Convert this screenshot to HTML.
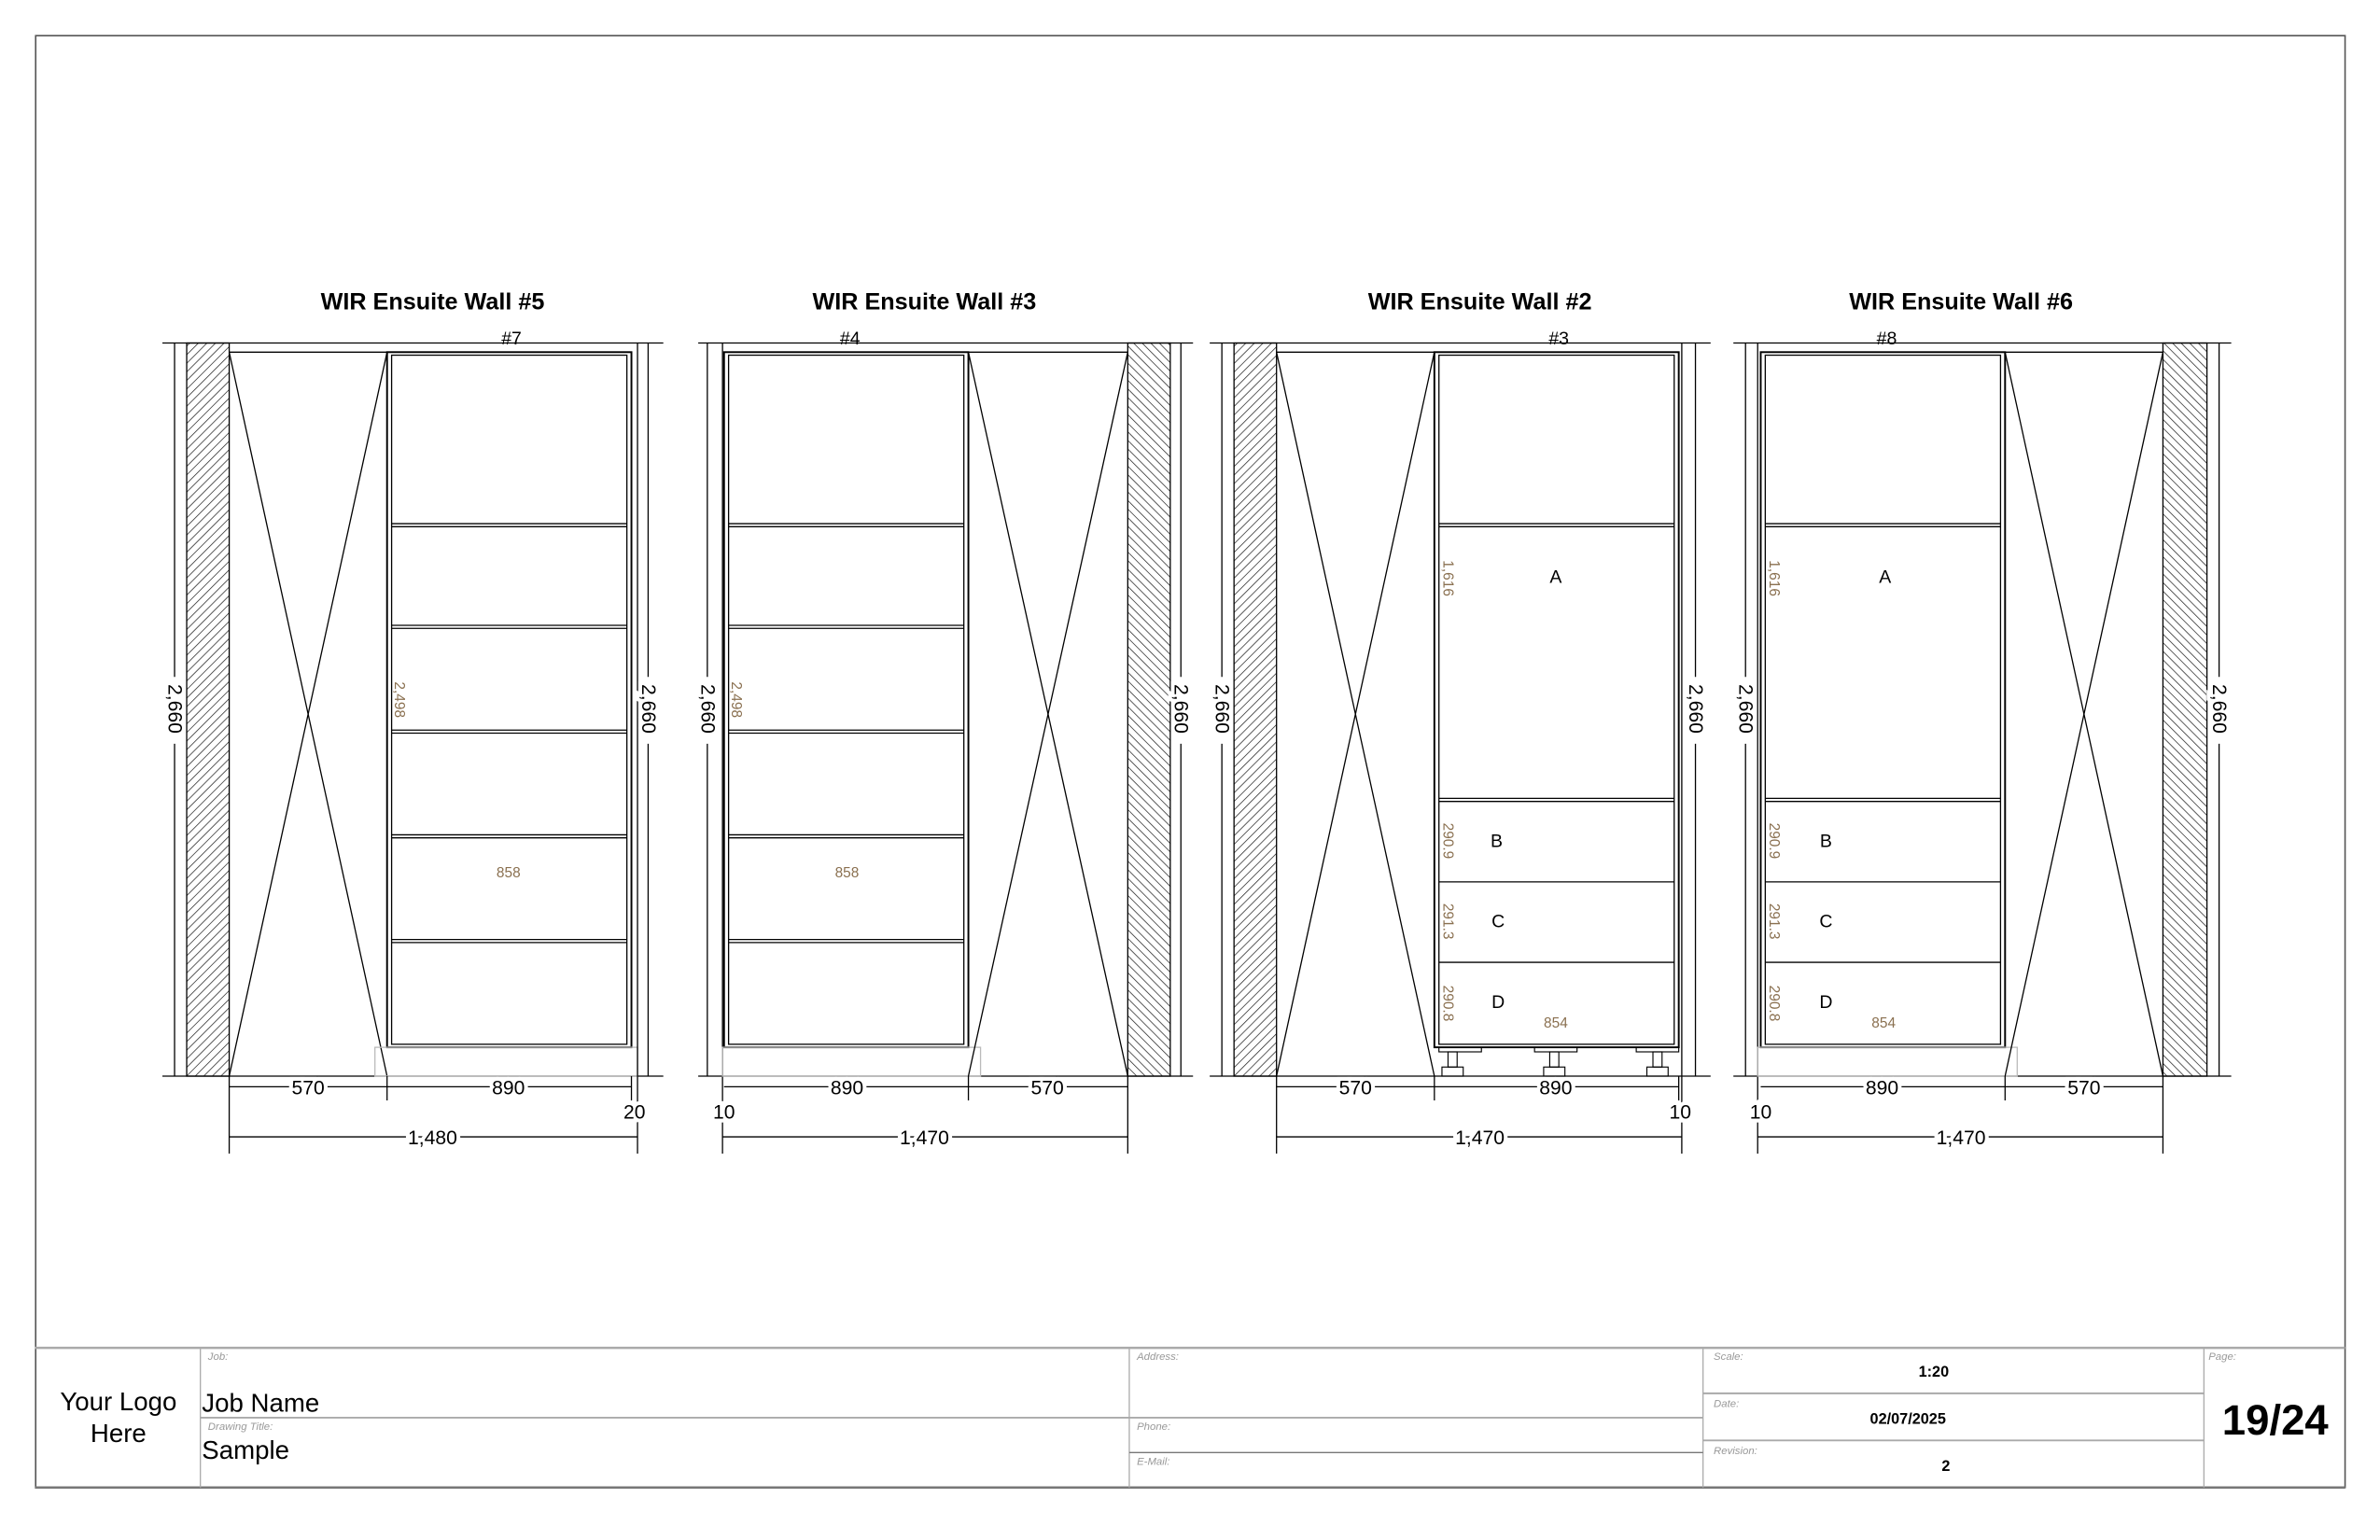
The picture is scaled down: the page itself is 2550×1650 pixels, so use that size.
<!DOCTYPE html>
<html><head><meta charset="utf-8"><style>
html,body{margin:0;padding:0;background:#fff}
svg{display:block}
text{font-family:"Liberation Sans",Arial,sans-serif}
.d{font-size:13px;fill:#000;paint-order:stroke;stroke:#fff;stroke-width:5px}
.b{font-size:9.5px;fill:#8a7050}
.l{font-size:12px;fill:#000}
.t{font-size:15.5px;font-weight:bold;fill:#000}
.sm{font-size:7px;fill:#999}
</style></head><body>
<svg width="2550" height="1650" viewBox="0 0 1568 1014.6" xmlns="http://www.w3.org/2000/svg">
<defs>
<pattern id="hL" width="4" height="4" patternUnits="userSpaceOnUse" patternTransform="rotate(45)"><line x1="0" y1="0" x2="0" y2="4" stroke="#222" stroke-width="0.9"/></pattern>
<pattern id="hR" width="4" height="4" patternUnits="userSpaceOnUse" patternTransform="rotate(-45)"><line x1="0" y1="0" x2="0" y2="4" stroke="#222" stroke-width="0.9"/></pattern>
</defs>
<rect x="23.5" y="23.5" width="1521.5" height="956.5" fill="none" stroke="#555" stroke-width="1"/>

<g stroke="#000" stroke-width="0.8" fill="none">
<!-- ============ WALL #5 ============ -->
<line x1="107" y1="226" x2="437" y2="226"/><line x1="107" y1="709" x2="437" y2="709"/>
<line x1="115" y1="226" x2="115" y2="446"/><line x1="115" y1="490" x2="115" y2="709"/>
<rect x="123" y="226" width="28" height="483" fill="url(#hL)" stroke="#000"/>
<line x1="151" y1="232" x2="255" y2="232"/>
<line x1="151" y1="232" x2="255" y2="709"/><line x1="255" y1="232" x2="151" y2="709"/>
<rect x="255" y="232" width="161" height="458" stroke-width="1.2"/>
<rect x="258" y="234" width="155" height="454"/>
<line x1="258" y1="345" x2="413" y2="345"/><line x1="258" y1="347" x2="413" y2="347"/>
<line x1="258" y1="412" x2="413" y2="412"/><line x1="258" y1="414" x2="413" y2="414"/>
<line x1="258" y1="481" x2="413" y2="481"/><line x1="258" y1="483" x2="413" y2="483"/>
<line x1="258" y1="550" x2="413" y2="550"/><line x1="258" y1="552" x2="413" y2="552"/>
<line x1="258" y1="619" x2="413" y2="619"/><line x1="258" y1="621" x2="413" y2="621"/>
<rect x="247" y="690" width="173" height="19" stroke="#bbb"/>
<line x1="420" y1="226" x2="420" y2="760"/>
<line x1="427" y1="226" x2="427" y2="446"/><line x1="427" y1="490" x2="427" y2="709"/>
<line x1="151" y1="709" x2="151" y2="760"/><line x1="255" y1="709" x2="255" y2="725"/><line x1="416" y1="709" x2="416" y2="725"/>
<line x1="151" y1="716" x2="416" y2="716"/><line x1="151" y1="749" x2="420" y2="749"/>

<!-- ============ WALL #3 ============ -->
<line x1="460" y1="226" x2="786" y2="226"/><line x1="460" y1="709" x2="786" y2="709"/>
<line x1="466" y1="226" x2="466" y2="446"/><line x1="466" y1="490" x2="466" y2="709"/>
<line x1="476" y1="226" x2="476" y2="760"/>
<rect x="477" y="232" width="161" height="458" stroke-width="1.2"/>
<rect x="480" y="234" width="155" height="454"/>
<line x1="480" y1="345" x2="635" y2="345"/><line x1="480" y1="347" x2="635" y2="347"/>
<line x1="480" y1="412" x2="635" y2="412"/><line x1="480" y1="414" x2="635" y2="414"/>
<line x1="480" y1="481" x2="635" y2="481"/><line x1="480" y1="483" x2="635" y2="483"/>
<line x1="480" y1="550" x2="635" y2="550"/><line x1="480" y1="552" x2="635" y2="552"/>
<line x1="480" y1="619" x2="635" y2="619"/><line x1="480" y1="621" x2="635" y2="621"/>
<rect x="476" y="690" width="170" height="19" stroke="#bbb"/>
<line x1="638" y1="232" x2="743" y2="232"/>
<line x1="638" y1="232" x2="743" y2="709"/><line x1="743" y1="232" x2="638" y2="709"/>
<rect x="743" y="226" width="28" height="483" fill="url(#hR)" stroke="#000"/>
<line x1="778" y1="226" x2="778" y2="446"/><line x1="778" y1="490" x2="778" y2="709"/>
<line x1="638" y1="709" x2="638" y2="725"/><line x1="743" y1="709" x2="743" y2="760"/>
<line x1="477" y1="716" x2="743" y2="716"/><line x1="476" y1="749" x2="743" y2="749"/>

<!-- ============ WALL #2 ============ -->
<line x1="797" y1="226" x2="1127" y2="226"/><line x1="797" y1="709" x2="1127" y2="709"/>
<line x1="805" y1="226" x2="805" y2="446"/><line x1="805" y1="490" x2="805" y2="709"/>
<rect x="813" y="226" width="28" height="483" fill="url(#hL)" stroke="#000"/>
<line x1="841" y1="232" x2="945" y2="232"/>
<line x1="841" y1="232" x2="945" y2="709"/><line x1="945" y1="232" x2="841" y2="709"/>
<rect x="945" y="232" width="161" height="458" stroke-width="1.2"/>
<rect x="948" y="234" width="155" height="454"/>
<line x1="948" y1="345" x2="1103" y2="345"/><line x1="948" y1="347" x2="1103" y2="347"/>
<line x1="948" y1="526" x2="1103" y2="526"/><line x1="948" y1="528" x2="1103" y2="528"/>
<line x1="948" y1="581" x2="1103" y2="581"/><line x1="948" y1="634" x2="1103" y2="634"/>
<g stroke-width="0.7">
<rect x="948" y="690" width="28" height="3"/><rect x="954" y="693" width="6" height="10"/><rect x="950" y="703" width="14" height="6"/>
<rect x="1011" y="690" width="28" height="3"/><rect x="1021" y="693" width="6" height="10"/><rect x="1017" y="703" width="14" height="6"/>
<rect x="1078" y="690" width="28" height="3"/><rect x="1089" y="693" width="6" height="10"/><rect x="1085" y="703" width="14" height="6"/>
</g>
<line x1="1108" y1="226" x2="1108" y2="760"/>
<line x1="1117" y1="226" x2="1117" y2="446"/><line x1="1117" y1="490" x2="1117" y2="709"/>
<line x1="841" y1="709" x2="841" y2="760"/><line x1="945" y1="709" x2="945" y2="725"/><line x1="1106" y1="709" x2="1106" y2="725"/>
<line x1="841" y1="716" x2="1106" y2="716"/><line x1="841" y1="749" x2="1108" y2="749"/>

<!-- ============ WALL #6 ============ -->
<line x1="1142" y1="226" x2="1470" y2="226"/><line x1="1142" y1="709" x2="1470" y2="709"/>
<line x1="1150" y1="226" x2="1150" y2="446"/><line x1="1150" y1="490" x2="1150" y2="709"/>
<line x1="1158" y1="226" x2="1158" y2="760"/>
<rect x="1160" y="232" width="161" height="458" stroke-width="1.2"/>
<rect x="1163" y="234" width="155" height="454"/>
<line x1="1163" y1="345" x2="1318" y2="345"/><line x1="1163" y1="347" x2="1318" y2="347"/>
<line x1="1163" y1="526" x2="1318" y2="526"/><line x1="1163" y1="528" x2="1318" y2="528"/>
<line x1="1163" y1="581" x2="1318" y2="581"/><line x1="1163" y1="634" x2="1318" y2="634"/>
<rect x="1158" y="690" width="171" height="19" stroke="#bbb"/>
<line x1="1321" y1="232" x2="1425" y2="232"/>
<line x1="1321" y1="232" x2="1425" y2="709"/><line x1="1425" y1="232" x2="1321" y2="709"/>
<rect x="1425" y="226" width="29" height="483" fill="url(#hR)" stroke="#000"/>
<line x1="1462" y1="226" x2="1462" y2="446"/><line x1="1462" y1="490" x2="1462" y2="709"/>
<line x1="1321" y1="709" x2="1321" y2="725"/><line x1="1425" y1="709" x2="1425" y2="760"/>
<line x1="1160" y1="716" x2="1425" y2="716"/><line x1="1158" y1="749" x2="1425" y2="749"/>
</g>

<!-- titles -->
<text class="t" x="285" y="204" text-anchor="middle">WIR Ensuite Wall #5</text>
<text class="t" x="609" y="204" text-anchor="middle">WIR Ensuite Wall #3</text>
<text class="t" x="975" y="204" text-anchor="middle">WIR Ensuite Wall #2</text>
<text class="t" x="1292" y="204" text-anchor="middle">WIR Ensuite Wall #6</text>
<text class="l" x="337" y="227" text-anchor="middle">#7</text>
<text class="l" x="560" y="227" text-anchor="middle">#4</text>
<text class="l" x="1027" y="227" text-anchor="middle">#3</text>
<text class="l" x="1243" y="227" text-anchor="middle">#8</text>

<!-- vertical 2,660 -->
<g class="d" text-anchor="middle">
<text transform="translate(111,467) rotate(90)">2,660</text>
<text transform="translate(423,467) rotate(90)">2,660</text>
<text transform="translate(462,467) rotate(90)">2,660</text>
<text transform="translate(774,467) rotate(90)">2,660</text>
<text transform="translate(801,467) rotate(90)">2,660</text>
<text transform="translate(1113,467) rotate(90)">2,660</text>
<text transform="translate(1146,467) rotate(90)">2,660</text>
<text transform="translate(1458,467) rotate(90)">2,660</text>
<text x="203" y="721">570</text><text x="335" y="721">890</text><text x="418" y="737">20</text><text x="285" y="754">1,480</text>
<text x="558" y="721">890</text><text x="690" y="721">570</text><text x="477" y="737">10</text><text x="609" y="754">1,470</text>
<text x="893" y="721">570</text><text x="1025" y="721">890</text><text x="1107" y="737">10</text><text x="975" y="754">1,470</text>
<text x="1240" y="721">890</text><text x="1373" y="721">570</text><text x="1160" y="737">10</text><text x="1292" y="754">1,470</text>
</g>

<g class="b" text-anchor="middle">
<text transform="translate(260,461) rotate(90)">2,498</text>
<text x="335" y="578">858</text>
<text transform="translate(482,461) rotate(90)">2,498</text>
<text x="558" y="578">858</text>
<text transform="translate(951,381) rotate(90)">1,616</text>
<text transform="translate(951,554) rotate(90)">290.9</text>
<text transform="translate(951,607) rotate(90)">291.3</text>
<text transform="translate(951,661) rotate(90)">290.8</text>
<text x="1025" y="677">854</text>
<text transform="translate(1166,381) rotate(90)">1,616</text>
<text transform="translate(1166,554) rotate(90)">290.9</text>
<text transform="translate(1166,607) rotate(90)">291.3</text>
<text transform="translate(1166,661) rotate(90)">290.8</text>
<text x="1241" y="677">854</text>
</g>
<g class="l" text-anchor="middle">
<text x="1025" y="384">A</text><text x="986" y="558">B</text><text x="987" y="611">C</text><text x="987" y="664">D</text>
<text x="1242" y="384">A</text><text x="1203" y="558">B</text><text x="1203" y="611">C</text><text x="1203" y="664">D</text>
</g>

<!-- title block -->
<g stroke="#aaa" stroke-width="0.8">
<line x1="23" y1="888" x2="1545" y2="888" stroke-width="1.5"/>
<line x1="23" y1="980" x2="1545" y2="980" stroke="#777" stroke-width="1.5"/>
<line x1="132" y1="888" x2="132" y2="980"/>
<line x1="744" y1="888" x2="744" y2="980"/>
<line x1="1122" y1="888" x2="1122" y2="980"/>
<line x1="1452" y1="888" x2="1452" y2="980"/>
<line x1="132" y1="934" x2="1122" y2="934" stroke-width="1.2"/>
<line x1="744" y1="957" x2="1122" y2="957" stroke="#777"/>
<line x1="1122" y1="918" x2="1452" y2="918" stroke-width="1.2"/>
<line x1="1122" y1="949" x2="1452" y2="949" stroke-width="1.2"/>
</g>
<g class="sm" font-style="italic">
<text x="137" y="896">Job:</text><text x="137" y="942">Drawing Title:</text>
<text x="749" y="896">Address:</text><text x="749" y="942">Phone:</text><text x="749" y="965">E-Mail:</text>
<text x="1129" y="896">Scale:</text><text x="1129" y="927">Date:</text><text x="1129" y="958">Revision:</text>
<text x="1455" y="896">Page:</text>
</g>
<text x="78" y="929" font-size="17" text-anchor="middle">Your Logo</text>
<text x="78" y="950" font-size="17" text-anchor="middle">Here</text>
<text x="133" y="930" font-size="17">Job Name</text>
<text x="133" y="961" font-size="17">Sample</text>
<text x="1274" y="907" font-size="10" font-weight="bold" text-anchor="middle">1:20</text>
<text x="1257" y="938" font-size="10" font-weight="bold" text-anchor="middle">02/07/2025</text>
<text x="1282" y="969" font-size="10" font-weight="bold" text-anchor="middle">2</text>
<text x="1499" y="945" font-size="28" font-weight="bold" text-anchor="middle">19/24</text>
</svg>
</body></html>
